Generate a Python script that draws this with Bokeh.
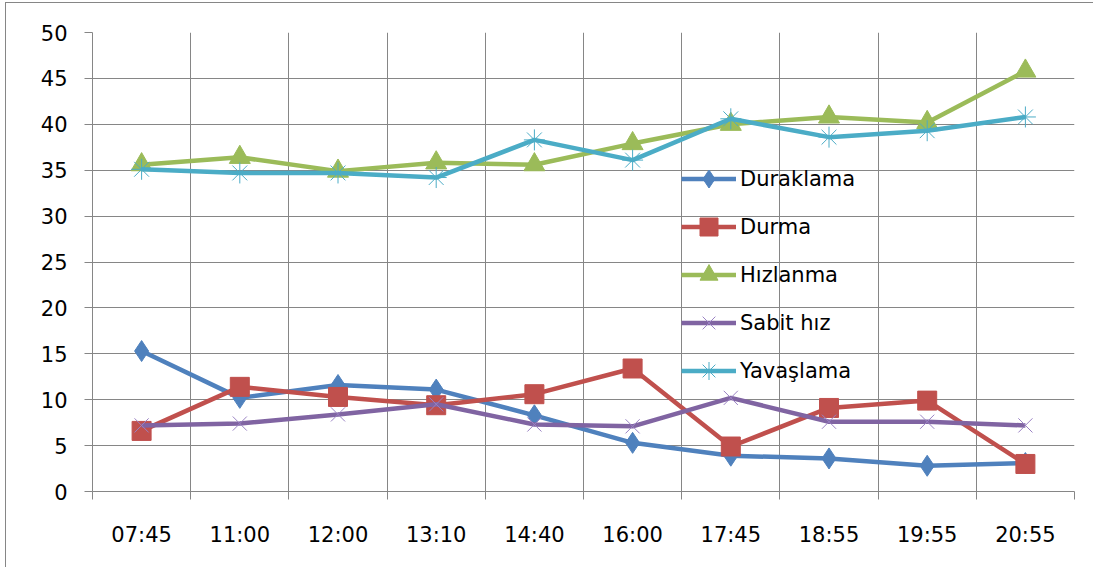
from bokeh.plotting import figure
from bokeh.models import Range1d, FixedTicker, Legend
from bokeh.embed import file_html
from bokeh.resources import INLINE

categories = ["07:45", "11:00", "12:00", "13:10", "14:40", "16:00", "17:45", "18:55", "19:55", "20:55"]
duraklama = [15.3, 10.2, 11.6, 11.1, 8.3, 5.3, 3.9, 3.6, 2.8, 3.1]
durma = [6.6, 11.4, 10.3, 9.4, 10.6, 13.4, 4.9, 9.1, 9.9, 3.0]
hizlanma = [35.6, 36.4, 34.9, 35.8, 35.6, 37.9, 40.0, 40.8, 40.2, 45.8]
sabit_hiz = [7.2, 7.4, 8.4, 9.5, 7.3, 7.1, 10.2, 7.6, 7.6, 7.2]
yavaslama = [35.1, 34.7, 34.7, 34.2, 38.3, 36.1, 40.6, 38.6, 39.3, 40.8]
y_ticks = [0, 5, 10, 15, 20, 25, 30, 35, 40, 45, 50]

xs = list(range(1, len(categories) + 1))
bounds = [i + 0.5 for i in range(0, len(categories) + 1)]

GRID = "#868686"
FONT = "DejaVu Sans"

p = figure(width=1088, height=565, output_backend="svg", toolbar_location=None,
           x_range=Range1d(0.5, len(categories) + 0.5), y_range=Range1d(0, 50),
           min_border_left=86, min_border_top=29, min_border_right=20, min_border_bottom=77)
p.styles = {"border-top": "1px solid #868686", "border-left": "1px solid #868686",
            "margin-left": "5px", "margin-top": "2px"}
p.outline_line_color = None
p.background_fill_color = "white"
p.border_fill_color = "white"

# x axis: labels at centers, tick marks at boundaries
p.xaxis.ticker = FixedTicker(ticks=xs, minor_ticks=bounds)
p.xaxis.major_label_overrides = {x: c for x, c in zip(xs, categories)}
p.xaxis.major_tick_out = 0
p.xaxis.major_tick_in = 0
p.xaxis.minor_tick_out = 8
p.xaxis.minor_tick_in = 0
p.xaxis.minor_tick_line_color = GRID
p.xaxis.axis_line_color = GRID
p.xaxis.major_label_text_font = FONT
p.xaxis.major_label_text_font_size = "21px"
p.xaxis.major_label_text_color = "black"
p.xaxis.major_label_standoff = 23
p.xgrid.ticker = FixedTicker(ticks=bounds)
p.xgrid.grid_line_color = GRID

p.yaxis.ticker = FixedTicker(ticks=y_ticks)
p.yaxis.major_tick_out = 8
p.yaxis.major_tick_in = 0
p.yaxis.minor_tick_line_color = None
p.yaxis.major_tick_line_color = GRID
p.yaxis.axis_line_color = GRID
p.yaxis.major_label_text_font = FONT
p.yaxis.major_label_text_font_size = "21px"
p.yaxis.major_label_text_color = "black"
p.yaxis.major_label_standoff = 17
p.ygrid.grid_line_color = GRID

series = [
    ("Duraklama", duraklama, "#4F81BD", dict(marker="diamond", size=21, fill_color="#4F81BD", line_color="#4F81BD", line_width=1)),
    ("Durma", durma, "#C0504D", dict(marker="square", size=19, fill_color="#C0504D", line_color="#C0504D", line_width=1)),
    ("Hızlanma", hizlanma, "#9BBB59", dict(marker="triangle", size=21, fill_color="#9BBB59", line_color="#9BBB59", line_width=1)),
    ("Sabit hız", sabit_hiz, "#8064A2", dict(marker="x", size=20, line_color="#9A82C4", line_width=1)),
    ("Yavaşlama", yavaslama, "#4BACC6", dict(marker="asterisk", size=21, line_color="#4BACC6", line_width=1)),
]

items = []
for name, vals, col, mk in series:
    l = p.line(xs, vals, line_color=col, line_width=4.5)
    s = p.scatter(xs, vals, **mk)
    items.append((name, [l, s]))

legend = Legend(items=items, location=(589, 98))
legend.background_fill_alpha = 0
legend.border_line_alpha = 0
legend.padding = 0
legend.margin = 0
legend.spacing = 3
legend.glyph_width = 55
legend.glyph_height = 45
legend.label_height = 24
legend.label_standoff = 4
legend.label_text_font = FONT
legend.label_text_font_size = "21px"
legend.label_text_color = "black"
p.add_layout(legend, "center")

open("out.html", "w").write(file_html(p, INLINE))
